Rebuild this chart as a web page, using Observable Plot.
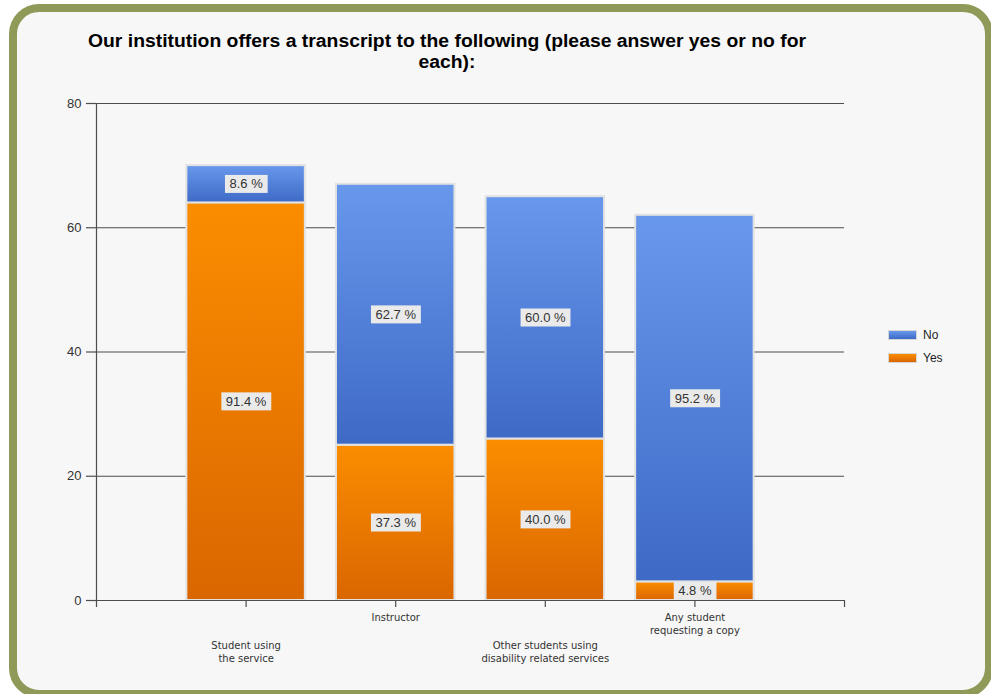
<!DOCTYPE html>
<html>
<head>
<meta charset="utf-8">
<script src="https://cdn.jsdelivr.net/npm/d3@7"></script>
<script src="https://cdn.jsdelivr.net/npm/@observablehq/plot@0.6"></script>
<style>
html,body{margin:0;padding:0;background:#fff;width:991px;height:694px;overflow:hidden;}
#frame{position:absolute;left:9px;top:4px;width:984px;height:694px;box-sizing:border-box;border:8px solid #8f9a58;border-radius:30px;background:#f7f7f7;}
#chart{position:absolute;left:0;top:0;}
#title{position:absolute;left:0;top:31px;width:894px;text-align:center;font-family:"Liberation Sans",Arial,sans-serif;font-weight:bold;font-size:18px;line-height:21px;color:#000;white-space:nowrap;transform-origin:447px 50%;}
#legend{position:absolute;left:888px;top:323px;font-family:"Liberation Sans",Arial,sans-serif;font-size:12px;color:#222;}
.item{display:flex;align-items:center;height:23px;}
.sw{width:27px;height:8px;border:1px solid #d6d6d6;margin-right:6px;}
</style>
</head>
<body>
<div id="frame"></div>
<div id="chart"></div>
<div id="title"><span id="t1">Our institution offers a transcript to the following (please answer yes or no for</span><br><span>each):</span></div>
<div id="legend"></div>
<script>
const categories = ["Student using the service", "Instructor", "Other students using disability related services", "Any student requesting a copy"];
const labelLines = [["Student using", "the service"], ["Instructor"], ["Other students using", "disability related services"], ["Any student", "requesting a copy"]];
const yesCounts = [64, 25, 26, 3];
const noCounts = [6, 42, 39, 59];
const yesPct = ["91.4 %", "37.3 %", "40.0 %", "4.8 %"];
const noPct = ["8.6 %", "62.7 %", "60.0 %", "95.2 %"];
const yTicks = [0, 20, 40, 60, 80];
const series = ["No", "Yes"];
const seriesColors = {No: ["#6898ec", "#3e6ac6"], Yes: ["#fb8d00", "#da6600"]};

const idx = d3.range(categories.length);
const pos = i => i + 1;
const half = 0.396;
const axisColor = "#4d4d4d";

const plot = Plot.plot({
  width: 991,
  height: 694,
  marginLeft: 96,
  marginRight: 147,
  marginTop: 103,
  marginBottom: 94,
  style: {background: "transparent", fontFamily: "'Liberation Sans', Arial, sans-serif", overflow: "visible"},
  x: {type: "linear", domain: [0, categories.length + 1], axis: null},
  y: {domain: [0, 80], axis: null},
  marks: [
    Plot.ruleY(yTicks.filter(t => t > 0), {stroke: axisColor, strokeWidth: 1.2}),
    Plot.ruleX([0], {stroke: axisColor, strokeWidth: 1.2}),
    Plot.axisY({ticks: yTicks, tickSize: 10, tickPadding: 5, fontSize: 13, fill: "#333", stroke: axisColor, strokeWidth: 1.2, label: null}),
    Plot.rect(idx, {x1: i => pos(i) - half, x2: i => pos(i) + half, y1: 0, y2: i => yesCounts[i], fill: "url(#gradYes)", stroke: "#e2e2e2", strokeWidth: 2}),
    Plot.rect(idx, {x1: i => pos(i) - half, x2: i => pos(i) + half, y1: i => yesCounts[i], y2: i => yesCounts[i] + noCounts[i], fill: "url(#gradNo)", stroke: "#e2e2e2", strokeWidth: 2}),
    Plot.ruleY([0], {stroke: axisColor, strokeWidth: 1.2}),
    Plot.axisX({ticks: d3.range(0, categories.length + 2), tickSize: 7, tickFormat: () => "", stroke: axisColor, strokeWidth: 1.2, label: null}),
    Plot.text(idx.flatMap(i => [{v: yesCounts[i] / 2, t: yesPct[i], i}, {v: yesCounts[i] + noCounts[i] / 2, t: noPct[i], i}]),
      {x: d => pos(d.i), y: "v", text: "t", fontSize: 13, fill: "#333"}),
    Plot.text(idx.filter(i => i % 2 === 0), {x: pos, y: 0, text: i => labelLines[i].join("\n"), lineAnchor: "top", dy: 39, lineHeight: 1.3, fontSize: 10, fontFamily: "DejaVu Sans", fill: "#333"}),
    Plot.text(idx.filter(i => i % 2 === 1), {x: pos, y: 0, text: i => labelLines[i].join("\n"), lineAnchor: "top", dy: 11, lineHeight: 1.3, fontSize: 10, fontFamily: "DejaVu Sans", fill: "#333"})
  ]
});

const ns = "http://www.w3.org/2000/svg";
const defs = document.createElementNS(ns, "defs");
defs.innerHTML = series.map(s => `<linearGradient id="grad${s}" x1="0" y1="0" x2="0" y2="1"><stop offset="0" stop-color="${seriesColors[s][0]}"/><stop offset="1" stop-color="${seriesColors[s][1]}"/></linearGradient>`).join("");
plot.insertBefore(defs, plot.firstChild);
document.getElementById("chart").appendChild(plot);

// label background boxes
const textGroups = plot.querySelectorAll("g[aria-label='text']");
if (textGroups.length) {
  textGroups[0].querySelectorAll("text").forEach(t => {
    const b = t.getBBox();
    const r = document.createElementNS(ns, "rect");
    r.setAttribute("x", b.x - 4.5);
    r.setAttribute("y", b.y - 1.5);
    r.setAttribute("width", b.width + 9);
    r.setAttribute("height", b.height + 3);
    r.setAttribute("fill", "#eaeaea");
    const tr = t.getAttribute("transform");
    if (tr) r.setAttribute("transform", tr);
    t.parentNode.insertBefore(r, t);
  });
}

// legend
const legend = document.getElementById("legend");
series.forEach(s => {
  const item = document.createElement("div");
  item.className = "item";
  const sw = document.createElement("div");
  sw.className = "sw";
  sw.style.background = `linear-gradient(${seriesColors[s][0]}, ${seriesColors[s][1]})`;
  const lab = document.createElement("span");
  lab.textContent = s;
  item.appendChild(sw);
  item.appendChild(lab);
  legend.appendChild(item);
});

// title width fit
const title = document.getElementById("title");
const w = document.getElementById("t1").getBoundingClientRect().width;
title.style.transform = `scaleX(${718 / w})`;
</script>
</body>
</html>
